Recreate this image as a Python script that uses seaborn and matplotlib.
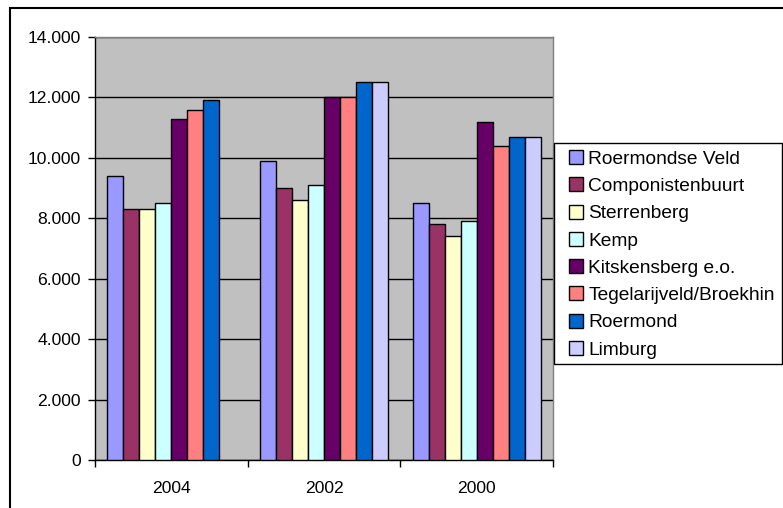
import pandas as pd
import numpy as np
import matplotlib
matplotlib.use("Agg")
import matplotlib.pyplot as plt
import matplotlib.ticker as ticker
import seaborn as sns
from matplotlib.patches import Rectangle

sns.set_theme(style="white")
plt.rcParams['font.family'] = ['Liberation Sans', 'DejaVu Sans']

# data
jaren = ["2004", "2002", "2000"]
wijken = ["Roermondse Veld", "Componistenbuurt", "Sterrenberg", "Kemp",
          "Kitskensberg e.o.", "Tegelarijveld/Broekhin", "Roermond", "Limburg"]
roermondse_veld = [9400, 9900, 8500]
componistenbuurt = [8300, 9000, 7800]
sterrenberg = [8300, 8600, 7400]
kemp = [8500, 9100, 7900]
kitskensberg = [11300, 12000, 11200]
tegelarijveld = [11600, 12000, 10400]
roermond = [11900, 12500, 10700]
limburg = [np.nan, 12500, 10700]  # 2004 ontbreekt

kleuren = ["#9999FF", "#993366", "#FFFFCC", "#CCFFFF",
           "#660066", "#FF8080", "#0066CC", "#CCCCFF"]

reeksen = [roermondse_veld, componistenbuurt, sterrenberg, kemp,
           kitskensberg, tegelarijveld, roermond, limburg]
rijen = []
for naam, waarden in zip(wijken, reeksen):
    for jaar, w in zip(jaren, waarden):
        if not np.isnan(w):
            rijen.append({'jaar': jaar, 'wijk': naam, 'waarde': w})
df = pd.DataFrame(rijen)

W, H = 783, 508
fig = plt.figure(figsize=(W / 100, H / 100), dpi=100)
ax = fig.add_axes([95 / W, 1 - 460 / H, (553 - 95) / W, (460 - 37) / H])

sns.barplot(data=df, x='jaar', y='waarde', hue='wijk', order=jaren, hue_order=wijken,
            palette=kleuren, width=0.838, edgecolor='black', linewidth=1,
            saturation=1, errorbar=None, ax=ax, zorder=3)

ax.set_facecolor('#C0C0C0')
ax.set_ylim(0, 14000)
ax.set_xlim(-0.5, 2.5)
ax.set_yticks(range(0, 14001, 2000))
ax.yaxis.set_major_formatter(ticker.FuncFormatter(lambda v, p: f"{int(v):,}".replace(",", ".")))
ax.yaxis.grid(True, color='black', linewidth=1)
ax.set_axisbelow(True)

ax.set_xticks([-0.5, 0.5, 1.5, 2.5])
ax.set_xticklabels([])
ax.set_xticks([0, 1, 2], minor=True)
ax.set_xticklabels(jaren, minor=True)
ax.tick_params(axis='x', which='major', direction='out', length=5, width=1, color='black', bottom=True)
ax.tick_params(axis='x', which='minor', length=0, pad=15, labelsize=12.6, labelcolor='black')
ax.tick_params(axis='y', direction='out', length=5, width=1, color='black', left=True, pad=5,
               labelsize=12.6, labelcolor='black')
ax.set_xlabel('')
ax.set_ylabel('')

for kant in ['top', 'right']:
    ax.spines[kant].set_color('#808080')
    ax.spines[kant].set_linewidth(1)
for kant in ['left', 'bottom']:
    ax.spines[kant].set_color('black')
    ax.spines[kant].set_linewidth(1)

# legenda zonder eigen kader, kader apart getekend
kader = Rectangle((554 / W, 1 - 364 / H), (782 - 554) / W, (364 - 142.7) / H,
                  transform=fig.transFigure, facecolor='white', clip_on=False,
                  edgecolor='black', linewidth=1, zorder=10)
ax.add_artist(kader)
leg = ax.legend(loc='upper left', bbox_to_anchor=(569 / W, 1 - 150 / H),
                bbox_transform=fig.transFigure, borderaxespad=0, borderpad=0,
                fontsize=13.8, frameon=False,
                handlelength=0.75, handleheight=0.75, handletextpad=0.25,
                labelspacing=0.5)
leg.set_zorder(11)
for t in leg.get_texts():
    t.set_color('black')
for h in leg.legend_handles:
    h.set_edgecolor('black')
    h.set_linewidth(1)

# rand om de hele grafiek
fig.patches.append(Rectangle((10 / W, -0.1), 1.2, 1 - 8 / H + 0.1, transform=fig.transFigure,
                             fill=False, edgecolor='black', linewidth=1.5))

fig.savefig('out.png', dpi=100)
